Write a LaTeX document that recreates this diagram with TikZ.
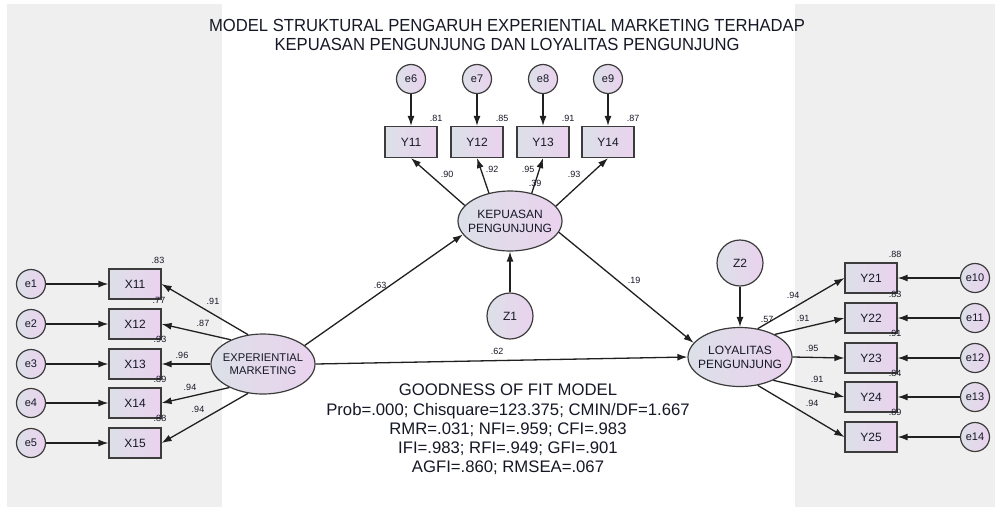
\documentclass[tikz,border=0pt]{standalone}
\usepackage{fontspec}
\setmainfont{Liberation Sans}
\newfontfamily\titlefont[FakeStretch=0.95]{Liberation Sans}
\usetikzlibrary{shapes.geometric,arrows.meta}
\definecolor{panel}{HTML}{EFEFEF}
\definecolor{lc}{HTML}{DCE0E8}
\definecolor{rc}{HTML}{EAD2EE}
\definecolor{bord}{HTML}{3C3C3C}
\definecolor{ink}{HTML}{161826}
\definecolor{wire}{HTML}{202020}
\begin{document}
\begin{tikzpicture}[x=1pt,y=-1pt,
  shaded/.style={draw=bord,line width=1.2pt,left color=lc,right color=rc,text=ink,inner sep=0pt},
  errc/.style={shaded,circle,minimum size=29pt,font=\fontsize{11}{11}\selectfont},
  distc/.style={shaded,circle,minimum size=46pt,font=\fontsize{12}{12}\selectfont},
  obs/.style={shaded,rectangle,minimum width=52pt,minimum height=30pt,font=\fontsize{12}{12}\selectfont},
  lat/.style={shaded,ellipse,minimum width=104pt,minimum height=60pt},
  lattext/.style={align=center,text=ink,inner sep=0pt,font=\fontsize{12}{14}\selectfont},
  coef/.style={font=\fontsize{9}{9}\selectfont,text=ink,inner sep=0pt},
  arr/.style={draw=wire,line width=1.3pt,-{Latex[length=10pt,width=7pt]}},
  heading/.style={font=\titlefont\fontsize{17.5}{19}\selectfont,text=ink,inner sep=0pt,anchor=base},
  fitline/.style={font=\fontsize{16.7}{19.3}\selectfont,text=ink,inner sep=0pt,anchor=base}]

\useasboundingbox (0,0) rectangle (995,507);
\fill[white] (0,0) rectangle (995,507);
\fill[panel] (7,4) rectangle (222,507);
\fill[panel] (795,4) rectangle (995,507);

% title
\node[heading] (t1) at (507,31) {MODEL STRUKTURAL PENGARUH EXPERIENTIAL MARKETING TERHADAP};
\node[heading] (t2) at (507,50) {KEPUASAN PENGUNJUNG DAN LOYALITAS PENGUNJUNG};

% left block
\foreach \i/\y in {1/284,2/324,3/364,4/403,5/443}{
  \node[errc] (e\i) at (31,\y) {e\i};
  \node[obs] (x1\i) at (135,\y) {X1\i};
}
\node[lat] (exp) at (263,364) {};
\node[lattext,font=\fontsize{11.2}{13.5}\selectfont] (expt) at (exp.center) {EXPERIENTIAL\\MARKETING};

% top block
\foreach \i/\x/\e in {1/411/6,2/477/7,3/543/8,4/608/9}{
  \node[errc] (e\e) at (\x,79) {e\e};
  \node[obs,minimum height=31pt] (y1\i) at (\x,142) {Y1\i};
}
\node[lat] (kep) at (510,221) {};
\node[lattext] (kept) at (kep.center) {KEPUASAN\\PENGUNJUNG};
\node[distc] (z1) at (510,316) {Z1};

% right block
\node[lat,minimum height=59pt] (loy) at (740,357) {};
\node[lattext] (loyt) at (loy.center) {LOYALITAS\\PENGUNJUNG};
\node[distc] (z2) at (740,263) {Z2};
\foreach \i/\y/\e in {1/278/10,2/318/11,3/358/12,4/397/13,5/437/14}{
  \node[obs] (y2\i) at (871,\y) {Y2\i};
  \node[errc] (e\e) at (975,\y) {e\e};
}

% arrows left
\foreach \i in {1,...,5}{ \draw[arr] (e\i) -- (x1\i); }
\draw[arr] (exp.117) -- (x11.east);
\draw[arr] (exp.143) -- (x12.east);
\draw[arr] (exp.180) -- (x13.east);
\draw[arr] (exp.215) -- (x14.east);
\draw[arr] (exp.243) -- (x15.east);

% arrows top
\draw[arr] (e6) -- (y11);
\draw[arr] (e7) -- (y12);
\draw[arr] (e8) -- (y13);
\draw[arr] (e9) -- (y14);
\draw[arr] (kep.161) -- (y11.south);
\draw[arr] (kep.127) -- (y12.south);
\draw[arr] (kep.52) -- (y13.south);
\draw[arr] (kep.18) -- (y14.south);
\draw[arr] (z1) -- (kep);

% structural
\draw[arr] (exp.24) -- (kep.196);
\draw[arr] (exp.east) -- (loy.west);
\draw[arr] (kep.-13) -- (loy.163);
\draw[arr] (z2) -- (loy);

% arrows right
\draw[arr] (loy.58) -- (y21.west);
\draw[arr] (loy.33) -- (y22.west);
\draw[arr] (loy.east) -- (y23.west);
\draw[arr] (loy.-35) -- (y24.west);
\draw[arr] (loy.-58) -- (y25.west);
\draw[arr] (e10) -- (y21);
\draw[arr] (e11) -- (y22);
\draw[arr] (e12) -- (y23);
\draw[arr] (e13) -- (y24);
\draw[arr] (e14) -- (y25);

% coefficient labels left
\node[coef] (r11) at (158,260) {.83};
\node[coef] (r12) at (159,300) {.77};
\node[coef] (r13) at (160,339) {.93};
\node[coef] (r14) at (160,379) {.89};
\node[coef] (r15) at (160,418) {.88};
\node[coef] (l11) at (213,301) {.91};
\node[coef] (l12) at (203,323) {.87};
\node[coef] (l13) at (182,355) {.96};
\node[coef] (l14) at (190,387) {.94};
\node[coef] (l15) at (198,409) {.94};

% top labels
\node[coef] (q11) at (436,118) {.81};
\node[coef] (q12) at (502,118) {.85};
\node[coef] (q13) at (568,118) {.91};
\node[coef] (q14) at (633,118) {.87};
\node[coef] (k11) at (447,174) {.90};
\node[coef] (k12) at (492,169) {.92};
\node[coef] (k13) at (528,169) {.95};
\node[coef] (rk) at (535,183) {.39};
\node[coef] (k14) at (574,174) {.93};

% structural labels
\node[coef] (p1) at (380,285) {.63};
\node[coef] (p2) at (634,280) {.19};
\node[coef] (p3) at (497,351) {.62};

% right labels
\node[coef] (m21) at (793,295) {.94};
\node[coef] (rl) at (767,319) {.57};
\node[coef] (m22) at (803,318) {.91};
\node[coef] (m23) at (812,348) {.95};
\node[coef] (m24) at (817,379) {.91};
\node[coef] (m25) at (812,403) {.94};
\node[coef] (s21) at (895,254) {.88};
\node[coef] (s22) at (895,294) {.83};
\node[coef] (s23) at (895,333) {.91};
\node[coef] (s24) at (895,373) {.84};
\node[coef] (s25) at (895,412) {.89};

% goodness of fit
\node[fitline] (g1) at (508,395) {GOODNESS OF FIT MODEL};
\node[fitline] (g2) at (508,415) {Prob=.000; Chisquare=123.375; CMIN/DF=1.667};
\node[fitline] (g3) at (508,434) {RMR=.031; NFI=.959; CFI=.983};
\node[fitline] (g4) at (508,453) {IFI=.983; RFI=.949; GFI=.901};
\node[fitline] (g5) at (508,472) {AGFI=.860; RMSEA=.067};
\end{tikzpicture}
\end{document}
